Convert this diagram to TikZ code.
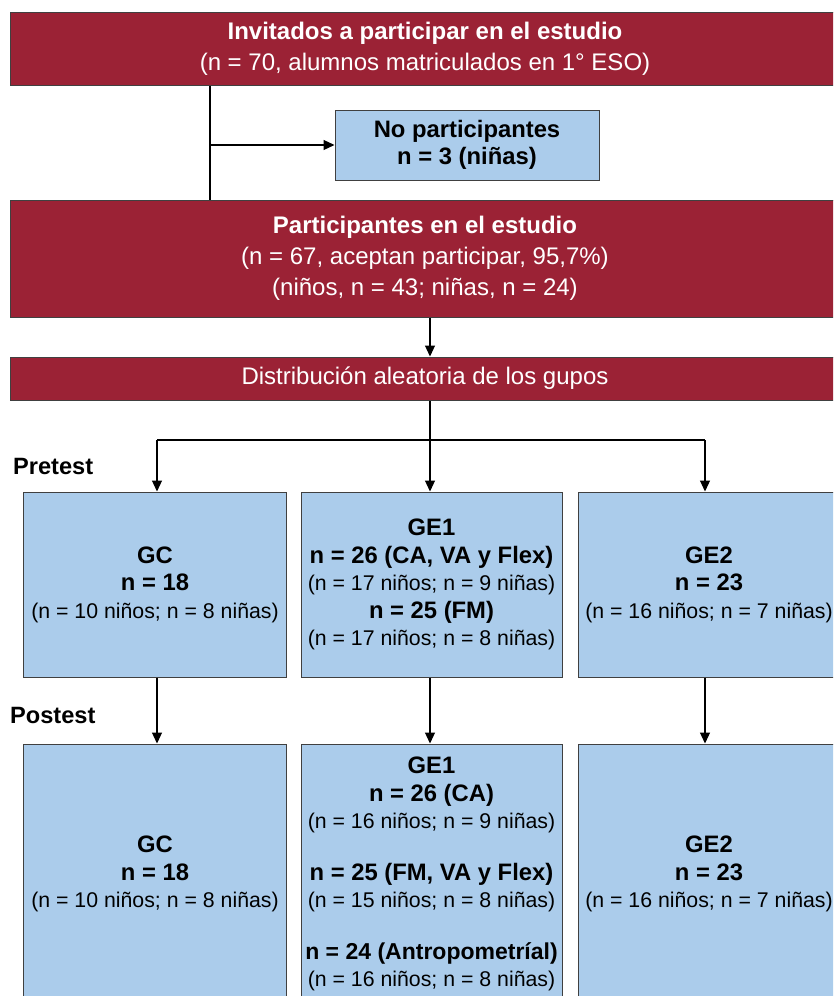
\documentclass[tikz,border=0pt]{standalone}
\usepackage{fontspec}
\setmainfont{Liberation Sans}
\usetikzlibrary{arrows.meta}
\definecolor{darkred}{RGB}{155,34,53}
\definecolor{paleblue}{RGB}{171,204,235}
\tikzstyle{redbox}=[
      rectangle,
      draw = black!75,
      line width = 1pt,
      fill = darkred,
      text = white,
      align = center,
      inner sep = 0pt,
      font = \fontsize{24}{31}\selectfont
      ]
\tikzstyle{bluebox}=[
      rectangle,
      draw = black!75,
      line width = 1pt,
      fill = paleblue,
      text = black,
      align = center,
      inner sep = 0pt,
      font = \fontsize{23.8}{27.5}\selectfont
      ]
\tikzstyle{phase}=[anchor = west, inner sep = 0pt, font = \fontsize{23.6}{27.5}\selectfont\bfseries]
\tikzstyle{arr}=[-{Triangle[length=11pt,width=10pt]}, line width = 1.1pt]
\tikzstyle{link}=[line width = 1.1pt]
\newcommand{\sub}[1]{{\fontsize{21.3}{27.5}\selectfont #1}}

\begin{document}
\begin{tikzpicture}[x=1pt,y=-1pt]
\clip (0,0) rectangle (833,996);
\fill[white] (0,0) rectangle (833,996);

% top of the flow
\node [redbox, minimum width=830pt, minimum height=73pt] (invit) at (425,48.5)
  {\textbf{Invitados a participar en el estudio}\\(n = 70, alumnos matriculados en 1° ESO)};
\node [bluebox, minimum width=264pt, minimum height=70pt] (nopart) at (467,145)
  {\textbf{No participantes}\\\textbf{n = 3 (niñas)}};
\node [redbox, minimum width=830pt, minimum height=117pt] (partic) at (425,258.5)
  {\textbf{Participantes en el estudio}\\(n = 67, aceptan participar, 95,7\%)\\(niños, n = 43; niñas, n = 24)};
\node [redbox, minimum width=830pt, minimum height=43pt] (distr) at (425,378.5)
  {Distribución aleatoria de los gupos};

\coordinate (branch) at (210,145);
\draw [link] (invit.south -| branch) -- (partic.north -| branch);
\draw [arr] (branch) -- (nopart.west);
\coordinate (mid) at (430,0);
\draw [arr] (partic.south -| mid) -- (distr.north -| mid);

% pretest
\node [phase] (pre) at (13,466) {Pretest};
\node [bluebox, minimum width=263pt, minimum height=185pt] (gc1) at (155,584.5)
  {\textbf{GC}\\\textbf{n = 18}\\\sub{(n = 10 niños; n = 8 niñas)}};
\node [bluebox, minimum width=261pt, minimum height=185pt] (ge11) at (431.5,584.5)
  {\textbf{GE1}\\\textbf{n = 26 (CA, VA y Flex)}\\\sub{(n = 17 niños; n = 9 niñas)}\\
   \textbf{n = 25 (FM)}\\\sub{(n = 17 niños; n = 8 niñas)}};
\node [bluebox, minimum width=262pt, minimum height=185pt] (ge21) at (709,584.5)
  {\textbf{GE2}\\\textbf{n = 23}\\\sub{(n = 16 niños; n = 7 niñas)}};

\coordinate (split) at (430,440);
\coordinate (lft) at (157,440);
\coordinate (rgt) at (705,440);
\draw [link] (distr.south -| split) -- (split);
\draw [link] (lft) -- (rgt);
\draw [arr] (lft) -- (gc1.north -| lft);
\draw [arr] (split) -- (ge11.north -| split);
\draw [arr] (rgt) -- (ge21.north -| rgt);

% postest
\node [phase] (post) at (10,715) {Postest};
\node [bluebox, minimum width=263pt, minimum height=260pt] (gc2) at (155,874)
  {\textbf{GC}\\\textbf{n = 18}\\\sub{(n = 10 niños; n = 8 niñas)}};
\node [bluebox, minimum width=261pt, minimum height=260pt] (ge12) at (431.5,874)
  {\textbf{GE1}\\\textbf{n = 26 (CA)}\\\sub{(n = 16 niños; n = 9 niñas)}\\[24pt]
   \textbf{n = 25 (FM, VA y Flex)}\\\sub{(n = 15 niños; n = 8 niñas)}\\[24pt]
   {\fontsize{23}{27.5}\selectfont\textbf{n = 24 (Antropometríal)}}\\\sub{(n = 16 niños; n = 8 niñas)}};
\node [bluebox, minimum width=262pt, minimum height=260pt] (ge22) at (709,874)
  {\textbf{GE2}\\\textbf{n = 23}\\\sub{(n = 16 niños; n = 7 niñas)}};

\draw [arr] (gc1.south -| lft) -- (gc2.north -| lft);
\draw [arr] (ge11.south -| split) -- (ge12.north -| split);
\draw [arr] (ge21.south -| rgt) -- (ge22.north -| rgt);
\end{tikzpicture}
\end{document}
